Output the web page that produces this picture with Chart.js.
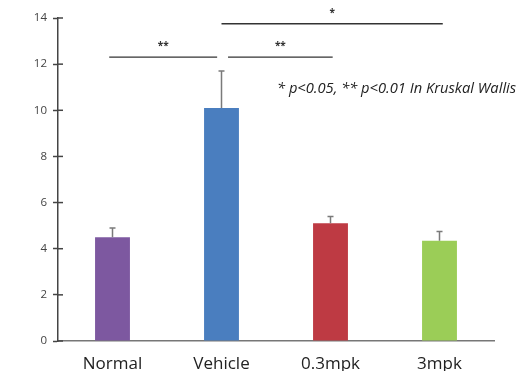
<!DOCTYPE html>
<html lang="en">
<head>
    <meta charset="UTF-8">
    <title>Bar chart with error bars</title>
    <style>
        body {
            margin: 0;
            padding: 0;
            background: #fff;
        }
        .chart {
            width: 520px;
            height: 371px;
        }
    </style>
    <script src="https://cdn.jsdelivr.net/npm/chart.js"></script>
</head>
<body>
    <div class="chart">
        <canvas id="chartCanvas" width="520" height="371"></canvas>
    </div>

    <script>
        const groups = ['Normal', 'Vehicle', '0.3mpk', '3mpk'];
        const means = [4.5, 10.1, 5.1, 4.35];
        const errors = [0.4, 1.6, 0.3, 0.4];
        const barColors = ['#7d58a0', '#4a7ebf', '#be3a43', '#9bcd57'];
        const yTicks = [0, 2, 4, 6, 8, 10, 12, 14];
        // comparisons: [from group, to group, bracket height, label]
        const brackets = [
            [-0.03, 0.96, 12.3, '**'],
            [1.06, 2.02, 12.3, '**'],
            [1.0, 3.03, 13.75, '*']
        ];
        const note = '* p<0.05, ** p<0.01 In Kruskal Wallis';

        const extras = {
            id: 'extras',
            afterDatasetsDraw(chart) {
                const ctx = chart.ctx;
                const x = chart.scales.x;
                const y = chart.scales.y;
                const step = x.getPixelForValue(1) - x.getPixelForValue(0);

                // error bars, upper side only
                ctx.save();
                ctx.strokeStyle = '#7a7a7a';
                ctx.lineWidth = 1.5;
                means.forEach((m, i) => {
                    const cx = x.getPixelForValue(i);
                    const y0 = y.getPixelForValue(m);
                    const y1 = y.getPixelForValue(m + errors[i]);
                    ctx.beginPath();
                    ctx.moveTo(cx, y0);
                    ctx.lineTo(cx, y1);
                    ctx.moveTo(cx - 3, y1);
                    ctx.lineTo(cx + 3, y1);
                    ctx.stroke();
                });

                // small ticks inside the y axis
                ctx.strokeStyle = '#444';
                ctx.lineWidth = 1.5;
                yTicks.forEach(t => {
                    const py = y.getPixelForValue(t);
                    ctx.beginPath();
                    ctx.moveTo(chart.chartArea.left, py);
                    ctx.lineTo(chart.chartArea.left + 5, py);
                    ctx.stroke();
                });

                // significance brackets
                ctx.strokeStyle = '#333';
                ctx.lineWidth = 1.3;
                ctx.fillStyle = '#333';
                ctx.font = 'bold 10px "Open Sans"';
                ctx.textAlign = 'center';
                ctx.textBaseline = 'alphabetic';
                brackets.forEach(([a, b, v, label]) => {
                    const xa = x.getPixelForValue(0) + a * step;
                    const xb = x.getPixelForValue(0) + b * step;
                    const py = y.getPixelForValue(v);
                    ctx.beginPath();
                    ctx.moveTo(xa, py);
                    ctx.lineTo(xb, py);
                    ctx.stroke();
                    ctx.fillText(label, (xa + xb) / 2, py - 8);
                });

                // test note
                ctx.font = 'italic 14.7px "Open Sans"';
                ctx.fillStyle = '#222';
                ctx.textAlign = 'left';
                ctx.textBaseline = 'middle';
                ctx.fillText(note, 277, 89);
                ctx.restore();
            }
        };

        new Chart(document.getElementById('chartCanvas'), {
            type: 'bar',
            data: {
                labels: groups,
                datasets: [{
                    data: means,
                    backgroundColor: barColors,
                    barPercentage: 0.32,
                    categoryPercentage: 1.0
                }]
            },
            options: {
                responsive: false,
                animation: false,
                layout: {
                    padding: { top: 18, right: 26, left: 0, bottom: 0 }
                },
                plugins: {
                    legend: { display: false },
                    tooltip: { enabled: false }
                },
                scales: {
                    x: {
                        grid: { display: false, drawTicks: false },
                        border: { color: '#777', width: 1.5 },
                        ticks: {
                            color: '#222',
                            font: { family: 'Open Sans', size: 17 },
                            padding: 13
                        },
                        afterFit(scale) { scale.height = 30; }
                    },
                    y: {
                        min: 0,
                        max: 14,
                        grid: {
                            drawOnChartArea: false,
                            tickLength: 5,
                            tickColor: '#444',
                            tickWidth: 1.5
                        },
                        border: { color: '#444', width: 1.5 },
                        ticks: {
                            stepSize: 2,
                            color: '#444',
                            font: { family: 'Open Sans', size: 11.5 },
                            padding: 6
                        },
                        afterFit(scale) { scale.width = 58; }
                    }
                }
            },
            plugins: [extras]
        });
    </script>
</body>
</html>
